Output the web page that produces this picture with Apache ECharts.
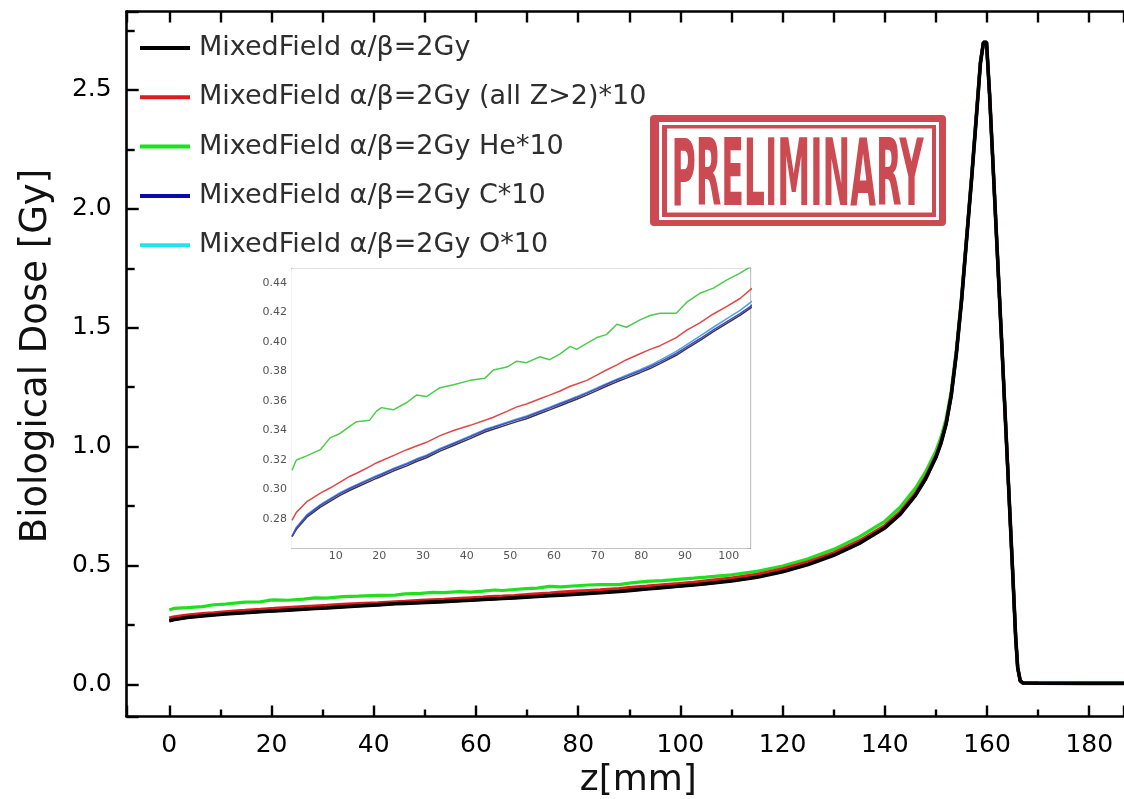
<!DOCTYPE html>
<html>
<head>
<meta charset="utf-8">
<script src="https://cdn.jsdelivr.net/npm/echarts@6/dist/echarts.min.js"></script>
<style>
html,body{margin:0;padding:0;background:#fff;}
#chart{width:1124px;height:799px;}
</style>
</head>
<body>
<div id="chart"></div>
<script>
// depth z [mm]
var zMM = [0, 1, 3.5, 6.5, 8.7, 11, 13.3, 14.8, 17.8, 19.3, 20.5, 23.2, 26.3, 28.5, 30.8, 33.9, 37, 40.8, 44.2, 46.1,
  49.2, 51.5, 53.7, 56.8, 59, 61.4, 63.7, 65.2, 67.5, 69.8, 72, 74.4, 76.6, 79.7, 82, 84.3, 88, 90.4, 93.4, 96.5,
  99.5, 102.6, 105, 110, 115, 120, 125, 130, 135, 140, 143, 146, 148, 150, 151, 152, 153, 154, 155, 156,
  157, 158, 158.7, 159.3, 159.9, 160.5, 161, 162, 163, 164, 165, 165.6, 166, 166.5, 167, 170, 180, 188];

// MixedField a/b=2Gy
var doseTotal = [0.268, 0.273, 0.2815, 0.288, 0.292, 0.296, 0.2995, 0.3015, 0.3055, 0.3075, 0.309, 0.3125, 0.316, 0.319, 0.3215, 0.326, 0.3298, 0.3345, 0.339, 0.3408,
  0.3438, 0.346, 0.348, 0.3515, 0.354, 0.3568, 0.3595, 0.3612, 0.364, 0.367, 0.370, 0.373, 0.3755, 0.3792, 0.382, 0.3853, 0.391, 0.3955, 0.401, 0.407,
  0.4125, 0.418, 0.423, 0.435, 0.451, 0.474, 0.504, 0.543, 0.593, 0.658, 0.715, 0.795, 0.865, 0.955, 1.015, 1.095, 1.215, 1.39, 1.61, 1.87,
  2.13, 2.41, 2.61, 2.70, 2.70, 2.48, 2.26, 1.82, 1.38, 0.93, 0.48, 0.2, 0.07, 0.015, 0.006, 0.005, 0.004, 0.004];

// (all Z>2)*10
var doseHeavy = [0.279, 0.2845, 0.292, 0.2975, 0.301, 0.305, 0.309, 0.311, 0.3155, 0.318, 0.3195, 0.323, 0.327, 0.3295, 0.332, 0.3365, 0.340, 0.3435, 0.347, 0.349,
  0.353, 0.356, 0.358, 0.3615, 0.364, 0.3668, 0.370, 0.3715, 0.374, 0.3775, 0.381, 0.3845, 0.388, 0.392, 0.395, 0.3975, 0.403, 0.408, 0.413, 0.419,
  0.424, 0.4295, 0.4355, 0.447, 0.463, 0.486, 0.516, 0.554, 0.604, 0.668, 0.725, 0.805, 0.874, 0.963, 1.022, 1.10, 1.22, 1.395, 1.615, 1.875,
  2.135, 2.415, 2.615, 2.70, 2.70, 2.48, 2.26, 1.82, 1.38, 0.93, 0.48, 0.2, 0.07, 0.015, 0.006, 0.005, 0.004, 0.004];

// He*10
var doseHe = [0.313, 0.32, 0.323, 0.327, 0.335, 0.338, 0.343, 0.346, 0.347, 0.353, 0.3555, 0.354, 0.359, 0.364, 0.363, 0.369, 0.371, 0.374, 0.3755, 0.381,
  0.383, 0.387, 0.386, 0.390, 0.388, 0.392, 0.397, 0.395, 0.399, 0.403, 0.405, 0.412, 0.410, 0.415, 0.418, 0.4195, 0.4195, 0.427, 0.433, 0.4365,
  0.442, 0.4467, 0.451, 0.461, 0.476, 0.498, 0.528, 0.568, 0.620, 0.686, 0.745, 0.826, 0.895, 0.982, 1.04, 1.118, 1.235, 1.41, 1.63, 1.89,
  2.15, 2.43, 2.625, 2.70, 2.695, 2.48, 2.26, 1.82, 1.38, 0.93, 0.48, 0.2, 0.07, 0.016, 0.007, 0.006, 0.006, 0.007];

// C*10
var doseC = [0.268, 0.2738, 0.2825, 0.2892, 0.2932, 0.2972, 0.3007, 0.3027, 0.3067, 0.3087, 0.3102, 0.3137, 0.3172, 0.3202, 0.3227, 0.3272, 0.331, 0.3357, 0.3402, 0.342,
  0.345, 0.3472, 0.3492, 0.3527, 0.3552, 0.358, 0.3607, 0.3624, 0.3652, 0.3682, 0.3712, 0.3742, 0.3767, 0.3804, 0.3832, 0.3865, 0.3922, 0.3967, 0.4022, 0.4082,
  0.4137, 0.4192, 0.4242, 0.437, 0.453, 0.476, 0.506, 0.545, 0.595, 0.66, 0.717, 0.797, 0.867, 0.957, 1.017, 1.097, 1.217, 1.392, 1.612, 1.872,
  2.132, 2.412, 2.612, 2.70, 2.70, 2.48, 2.26, 1.82, 1.38, 0.93, 0.48, 0.2, 0.07, 0.015, 0.006, 0.005, 0.005, 0.005];

// O*10
var doseO = [0.2685, 0.2745, 0.2832, 0.2898, 0.2938, 0.2978, 0.3013, 0.3033, 0.3073, 0.3093, 0.3108, 0.3143, 0.3178, 0.3208, 0.3233, 0.3278, 0.3316, 0.3363, 0.3408, 0.3426,
  0.3456, 0.3478, 0.3498, 0.3533, 0.3558, 0.3586, 0.3613, 0.363, 0.3658, 0.3688, 0.3718, 0.3748, 0.3775, 0.3812, 0.3842, 0.3877, 0.3936, 0.3983, 0.404, 0.41,
  0.4157, 0.4215, 0.4268, 0.438, 0.454, 0.477, 0.507, 0.546, 0.596, 0.661, 0.718, 0.798, 0.868, 0.958, 1.018, 1.098, 1.218, 1.393, 1.613, 1.873,
  2.133, 2.413, 2.613, 2.70, 2.70, 2.48, 2.26, 1.82, 1.38, 0.93, 0.48, 0.2, 0.07, 0.015, 0.006, 0.005, 0.006, 0.006];

var seriesNames = ['MixedField α/β=2Gy', 'MixedField α/β=2Gy (all Z>2)*10', 'MixedField α/β=2Gy He*10', 'MixedField α/β=2Gy C*10', 'MixedField α/β=2Gy O*10'];
var mainColors = ['#000000', '#e01b1b', '#1ee01e', '#0a0aa8', '#25e3ee'];
var insetColors = ['#3a3a3a', '#e04848', '#4ccc4c', '#4a46c0', '#4aa6e6'];
var seriesValues = [doseTotal, doseHeavy, doseHe, doseC, doseO];

var mainXTicks = [0, 20, 40, 60, 80, 100, 120, 140, 160, 180];
var mainYTicks = [0.0, 0.5, 1.0, 1.5, 2.0, 2.5];

function pairs(vals) { return zMM.map(function (z, i) { return [z, vals[i]]; }); }

var FONT = "'DejaVu Sans', sans-serif";
var chart = echarts.init(document.getElementById('chart'), null, {renderer: 'canvas'});

var series = [];
// main plot: draw order green, cyan, blue, red, black
[2, 4, 3, 1, 0].forEach(function (k) {
  series.push({
    name: seriesNames[k], type: 'line', xAxisIndex: 0, yAxisIndex: 0,
    data: pairs(seriesValues[k]), showSymbol: false, symbol: 'none',
    lineStyle: {color: mainColors[k], width: k === 0 ? 3.6 : 3.2},
    itemStyle: {color: mainColors[k]}, z: 2
  });
});
// inset: black, cyan, blue, red, green
[0, 4, 3, 1, 2].forEach(function (k) {
  series.push({
    name: seriesNames[k], type: 'line', xAxisIndex: 2, yAxisIndex: 1,
    data: pairs(seriesValues[k]), showSymbol: false, symbol: 'none',
    lineStyle: {color: insetColors[k], width: 1.5},
    itemStyle: {color: insetColors[k]}, z: 4
  });
});

var axisBlack = {onZero: false, lineStyle: {color: '#000', width: 2.6}};
var insetLine = {onZero: false, lineStyle: {color: '#8a8a8a', width: 1.2}};

var option = {
  animation: false,
  backgroundColor: '#fff',
  grid: [
    {left: 126.7, top: 11.5, right: 0, bottom: 82.5, show: false, containLabel: false, outerBoundsMode: 'none'},
    {left: 292, top: 268.25, width: 458.5, height: 280.25, show: true, backgroundColor: '#fff', borderColor: 'transparent', z: 3, containLabel: false, outerBoundsMode: 'none'}
  ],
  legend: {
    orient: 'vertical', left: 140, top: 33, padding: 0, itemGap: 19.3,
    itemWidth: 50, itemHeight: 4, icon: 'rect', selectedMode: false,
    textStyle: {fontFamily: FONT, fontSize: 27, color: '#2e2e2e', lineHeight: 30, padding: [0, 0, 0, 4]},
    data: seriesNames.map(function (n, i) { return {name: n, itemStyle: {color: mainColors[i]}}; })
  },
  xAxis: [
    {
      type: 'value', gridIndex: 0, position: 'bottom', min: -8.34, max: 186.8, splitNumber: 10,
      name: 'z[mm]', nameLocation: 'middle', nameGap: 40,
      nameTextStyle: {fontFamily: FONT, fontSize: 36, color: '#111', padding: [0, 0, 0, 26]},
      axisLine: axisBlack,
      axisTick: {show: true, inside: true, length: 11, lineStyle: {color: '#000', width: 2.4}},
      minorTick: {show: true, splitNumber: 2, length: 7, lineStyle: {color: '#000', width: 2.4}},
      splitLine: {show: false}, minorSplitLine: {show: false},
      axisLabel: {
        showMinLabel: false, showMaxLabel: false, margin: 16,
        fontFamily: FONT, fontSize: 25, color: '#000',
        formatter: function (v) { return mainXTicks.indexOf(Math.round(v * 1000) / 1000) >= 0 ? String(Math.round(v)) : ''; }
      }
    },
    {
      type: 'value', gridIndex: 0, position: 'top', min: -8.34, max: 186.8, splitNumber: 20,
      axisLine: axisBlack,
      axisTick: {show: true, inside: true, length: 11, lineStyle: {color: '#000', width: 2.4}},
      axisLabel: {show: false}, splitLine: {show: false}
    },
    {
      type: 'value', gridIndex: 1, position: 'bottom', min: 0, max: 105, interval: 5,
      axisLine: insetLine,
      axisTick: {show: true, inside: true, length: 4, lineStyle: {color: '#777', width: 1}},
      axisLabel: {
        showMinLabel: false, showMaxLabel: false, margin: 2, fontFamily: FONT, fontSize: 11, color: '#555',
        formatter: function (v) { var r = Math.round(v); return (r % 10 === 0 && r > 0) ? String(r) : ''; }
      },
      splitLine: {show: false}
    },
    {
      type: 'value', gridIndex: 1, position: 'top', min: 0, max: 105, interval: 5,
      axisLine: insetLine,
      axisTick: {show: true, inside: true, length: 4, lineStyle: {color: '#777', width: 1}},
      axisLabel: {show: false}, splitLine: {show: false}
    }
  ],
  yAxis: [
    {
      type: 'value', gridIndex: 0, position: 'left', min: -0.135, max: 2.83, splitNumber: 6,
      name: 'Biological Dose [Gy]', nameLocation: 'middle', nameGap: 72, nameRotate: 90,
      nameTextStyle: {fontFamily: FONT, fontSize: 37, color: '#111', padding: [0, 0, 0, 16]},
      axisLine: axisBlack,
      axisTick: {show: true, inside: true, length: 12, lineStyle: {color: '#000', width: 2.4}},
      minorTick: {show: true, splitNumber: 2, length: 8, lineStyle: {color: '#000', width: 2.4}},
      splitLine: {show: false}, minorSplitLine: {show: false},
      axisLabel: {
        showMinLabel: false, showMaxLabel: false, margin: 15,
        fontFamily: FONT, fontSize: 25, color: '#000',
        formatter: function (v) { var r = Math.round(v * 100) / 100; return mainYTicks.indexOf(r) >= 0 ? r.toFixed(1) : ''; }
      }
    },
    {
      type: 'value', gridIndex: 1, position: 'left', min: 0.26, max: 0.45, interval: 0.01,
      axisLine: insetLine,
      axisTick: {show: true, inside: true, length: 4, lineStyle: {color: '#777', width: 1}},
      axisLabel: {
        showMinLabel: false, showMaxLabel: false, margin: 5, fontFamily: FONT, fontSize: 11, color: '#555',
        formatter: function (v) { var r = Math.round(v * 100); return (r % 2 === 0) ? (r / 100).toFixed(2) : ''; }
      },
      splitLine: {show: false}
    },
    {
      type: 'value', gridIndex: 1, position: 'right', min: 0.26, max: 0.45, interval: 0.01,
      axisLine: insetLine,
      axisTick: {show: true, inside: true, length: 4, lineStyle: {color: '#777', width: 1}},
      axisLabel: {show: false}, splitLine: {show: false}
    }
  ],
  graphic: [
    {
      type: 'group', z: 10,
      children: [
        {type: 'rect', shape: {x: 650, y: 115, width: 296, height: 111, r: 4}, style: {fill: '#cc4b53'}},
        {type: 'rect', shape: {x: 660.5, y: 123.5, width: 277, height: 95}, style: {fill: 'none', stroke: '#ffffff', lineWidth: 3}},
        {type: 'rect', shape: {x: 667, y: 128.5, width: 265, height: 84}, style: {fill: '#ffffff'}},
        {type: 'text', x: 797.5, y: 181, scaleX: 0.36, scaleY: 1,
          style: {text: 'PRELIMINARY', fill: '#cc4b53', font: "bold 92px 'DejaVu Sans', sans-serif", align: 'center', verticalAlign: 'middle'}}
      ]
    }
  ],
  series: series
};
chart.setOption(option);
</script>
</body>
</html>
